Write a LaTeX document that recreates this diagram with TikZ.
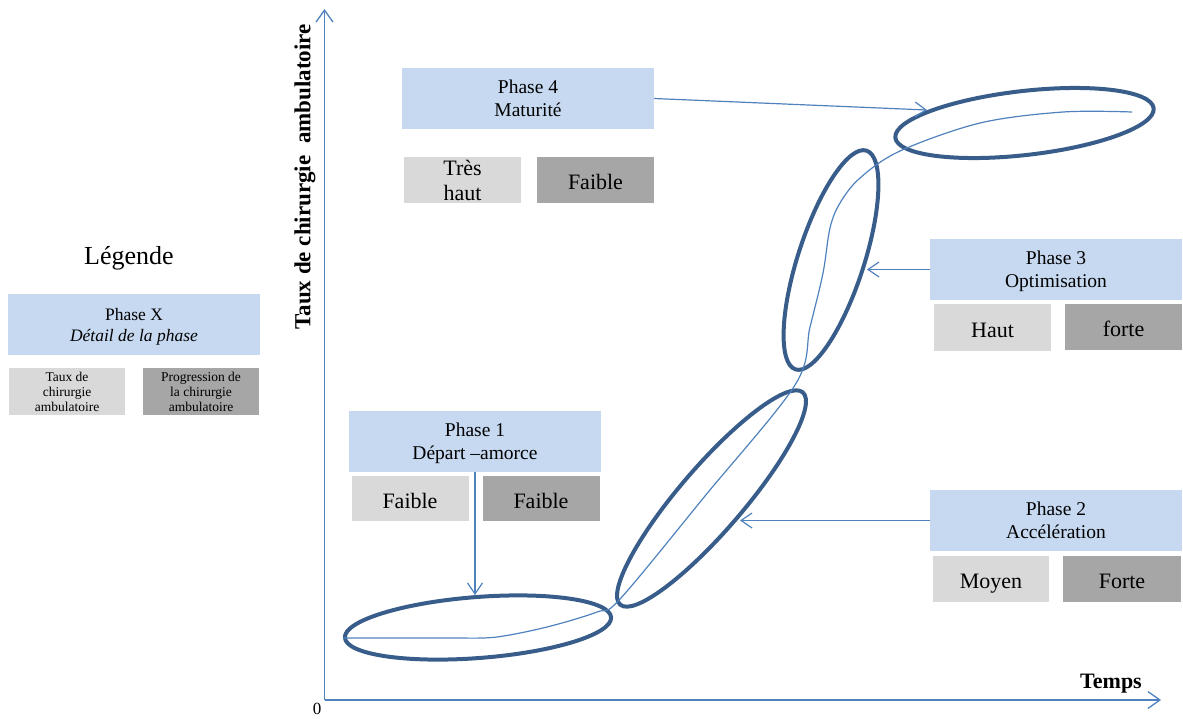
\documentclass[tikz,border=0pt]{standalone}
\usepackage{fontspec}
\setmainfont{Liberation Serif}
\usetikzlibrary{shapes.geometric,arrows.meta}
\definecolor{phasefill}{HTML}{C6D9F1}
\definecolor{lightg}{HTML}{D9D9D9}
\definecolor{darkg}{HTML}{A6A6A6}
\definecolor{ellc}{HTML}{385D8A}
\definecolor{linec}{HTML}{4F81BD}
\tikzset{
  phase/.style={fill=phasefill, minimum width=252pt, minimum height=61pt, inner sep=0pt, align=center, text depth=0pt, execute at begin node={\rule{0pt}{18pt}}, font=\fontsize{19.5}{23}\selectfont},
  lightbox/.style={fill=lightg, minimum width=117pt, minimum height=46pt, inner sep=0pt, align=center, font=\fontsize{22}{25}\selectfont},
  darkbox/.style={fill=darkg, minimum width=117pt, minimum height=46pt, inner sep=0pt, align=center, font=\fontsize{22}{25}\selectfont},
  oneline/.style={text height=19pt, text depth=0pt},
  ell/.style={ellipse, draw=ellc, line width=4pt, inner sep=0pt},
  arr/.style={draw=linec, line width=1.2pt, -{Straight Barb[length=11pt,width=15pt,line width=1.2pt]}},
  axis/.style={draw=linec, line width=1.3pt, -{Straight Barb[length=12pt,width=17pt,line width=1.3pt]}},
  curve/.style={draw=linec, line width=1.2pt}
}
\begin{document}
\begin{tikzpicture}[x=1pt,y=-1pt]
\useasboundingbox (0,0) rectangle (1183,718);
% axes
\coordinate (o) at (324.5,700);
\coordinate (ytop) at (324.5,9);
\coordinate (xend) at (1161,700);
\draw[axis] (o) -- (ytop);
\draw[axis] (o) -- (xend);
\node[font=\fontsize{17}{19}\selectfont, inner sep=0pt] (zero) at (317,709) {0};
\node[font=\bfseries\fontsize{22}{24}\selectfont] (temps) at (1111,684) {Temps};
\node[rotate=90, font=\bfseries\fontsize{23}{25}\selectfont] (ylab) at (305,177) {Taux de chirurgie\ \ ambulatoire};

% legend
\node[font=\fontsize{26}{28}\selectfont] (leg) at (129,258) {Légende};
\node[phase, font=\fontsize{17.5}{21}\selectfont] (px) at (134,324.5) {Phase X\\\textit{Détail de la phase}};
\node[lightbox, minimum height=47pt, minimum width=116pt, font=\fontsize{13.5}{15}\selectfont] (lx1) at (67,391.5) {Taux de\\chirurgie\\ambulatoire};
\node[darkbox, minimum height=47pt, minimum width=116pt, font=\fontsize{13.5}{15}\selectfont] (lx2) at (201,391.5) {Progression de\\la chirurgie\\ambulatoire};

% ellipses
\node[ell, minimum width=267pt, minimum height=61pt, rotate=4.4] (e1) at (478,627.5) {};
\node[ell, minimum width=280pt, minimum height=64pt, rotate=49.3] (e2) at (711.5,498.5) {};
\node[ell, minimum width=230pt, minimum height=66pt, rotate=72] (e3) at (831,260) {};
\node[ell, minimum width=260pt, minimum height=64pt, rotate=6.5] (e4) at (1024.5,123) {};

% curve
\draw[curve] (343,638) -- (463,638)
  plot[smooth, tension=0.55] coordinates {(463,638) (497,637) (547,627) (597,612) (620,599) (705,496) (795,385) (810,327) (823,273) (830,228) (840,203) (860,178) (900,151) (980,123) (1063,112) (1132,112)};

% phase 1
\node[phase] (p1) at (475,441.5) {Phase 1\\Départ –amorce};
\node[lightbox, oneline, minimum height=45pt] (p1a) at (410,498.5) {Faible};
\node[darkbox, oneline, minimum height=45pt] (p1b) at (541,498.5) {Faible};
\coordinate (t1) at (475,595);
\draw[arr] (p1.south) -- (t1);

% phase 2
\node[phase] (p2) at (1056,520.5) {Phase 2\\Accélération};
\node[lightbox, oneline, minimum width=116pt] (p2a) at (991,579) {Moyen};
\node[darkbox, oneline, minimum width=118pt] (p2b) at (1122,579) {Forte};
\coordinate (t2) at (740,520.5);
\draw[arr] (p2.west) -- (t2);

% phase 3
\node[phase] (p3) at (1056,269.5) {Phase 3\\Optimisation};
\node[lightbox, oneline, minimum height=47pt] (p3a) at (992.5,327.5) {Haut};
\node[darkbox, oneline] (p3b) at (1123.5,327) {forte};
\coordinate (t3) at (867,269.5);
\draw[arr] (p3.west) -- (t3);

% phase 4
\node[phase] (p4) at (528,98.5) {Phase 4\\Maturité};
\node[lightbox] (p4a) at (462.5,180) {Très\\haut};
\node[darkbox, oneline] (p4b) at (595.5,180) {Faible};
\coordinate (t4) at (927,110);
\draw[arr] (p4.east) -- (t4);
\end{tikzpicture}
\end{document}
